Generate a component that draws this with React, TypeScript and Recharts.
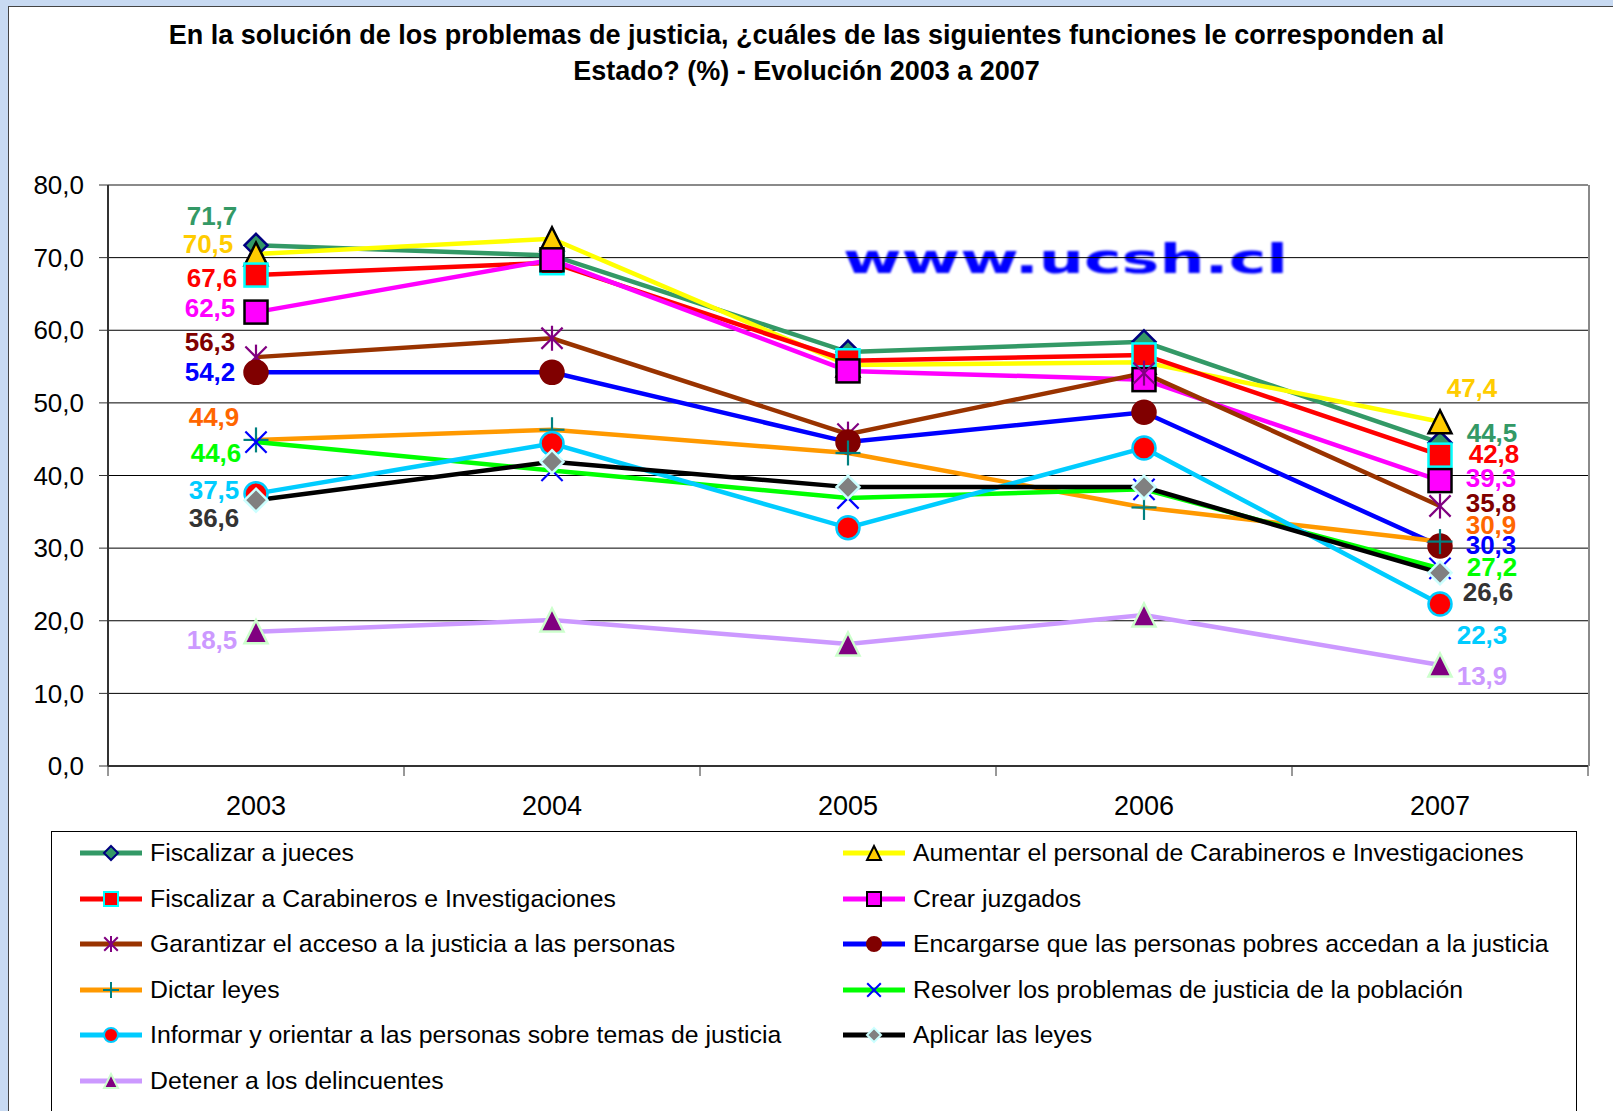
import { LineChart, Line, XAxis, YAxis, CartesianGrid, LabelList, ReferenceLine } from 'recharts';

// categories
const years = ['2003', '2004', '2005', '2006', '2007'];

// series values (%)
const fiscalizarJueces = [71.7, 70.3, 57.0, 58.4, 44.5];
const aumentarPersonal = [70.5, 72.6, 55.2, 55.6, 47.4];
const fiscalizarCarabineros = [67.6, 69.3, 55.8, 56.6, 42.8];
const crearJuzgados = [62.5, 69.7, 54.4, 53.2, 39.3];
const garantizarAcceso = [56.3, 58.9, 45.7, 54.1, 35.8];
const encargarsePobres = [54.2, 54.2, 44.6, 48.7, 30.3];
const dictarLeyes = [44.9, 46.3, 43.1, 35.6, 30.9];
const resolverProblemas = [44.6, 40.7, 36.9, 38.1, 27.2];
const informarOrientar = [37.5, 44.4, 32.8, 43.8, 22.3];
const aplicarLeyes = [36.6, 41.9, 38.4, 38.4, 26.6];
const detenerDelincuentes = [18.5, 20.1, 16.8, 20.8, 13.9];

const yTicks = [0, 10, 20, 30, 40, 50, 60, 70, 80];

// layout
const W = 1613;
const CHART_H = 830;
const PLOT_LEFT = 108;
const PLOT_RIGHT = 1588;
const PLOT_TOP = 185;
const PLOT_BOTTOM = 766;
const BAND = (PLOT_RIGHT - PLOT_LEFT) / years.length;
const FONT = '"Liberation Sans", Arial, sans-serif';

type Shape = 'diamond' | 'triangle' | 'square' | 'star' | 'circle' | 'plus' | 'cross';

interface SeriesDef {
  key: string;
  name: string;
  values: number[];
  color: string;
  shape: Shape;
  fill: string;
  stroke: string;
  labelColor: string;
  first: [number, number];
  last: [number, number];
}

const series: SeriesDef[] = [
  { key: 's0', name: 'Fiscalizar a jueces', values: fiscalizarJueces, color: '#339966', shape: 'diamond', fill: '#339966', stroke: '#000080', labelColor: '#339966', first: [-44, -29], last: [52, -10] },
  { key: 's1', name: 'Aumentar el personal de Carabineros e Investigaciones', values: aumentarPersonal, color: '#ffff00', shape: 'triangle', fill: '#ffcc00', stroke: '#000000', labelColor: '#ffcc00', first: [-48, -10], last: [32, -34] },
  { key: 's2', name: 'Fiscalizar a Carabineros e Investigaciones', values: fiscalizarCarabineros, color: '#ff0000', shape: 'square', fill: '#ff0000', stroke: '#00ffff', labelColor: '#ff0000', first: [-44, 3], last: [54, -1] },
  { key: 's3', name: 'Crear juzgados', values: crearJuzgados, color: '#ff00ff', shape: 'square', fill: '#ff00ff', stroke: '#000000', labelColor: '#ff00ff', first: [-46, -4], last: [51, -3] },
  { key: 's4', name: 'Garantizar el acceso a la justicia a las personas', values: garantizarAcceso, color: '#993300', shape: 'star', fill: '#800080', stroke: '#800080', labelColor: '#800000', first: [-46, -15], last: [51, -3] },
  { key: 's5', name: 'Encargarse que las personas pobres accedan a la justicia', values: encargarsePobres, color: '#0000ff', shape: 'circle', fill: '#800000', stroke: '#800000', labelColor: '#0000ff', first: [-46, 0], last: [51, -1] },
  { key: 's6', name: 'Dictar leyes', values: dictarLeyes, color: '#ff9900', shape: 'plus', fill: '#008080', stroke: '#008080', labelColor: '#ff6600', first: [-42, -23], last: [51, -17] },
  { key: 's7', name: 'Resolver los problemas de justicia de la población', values: resolverProblemas, color: '#00ff00', shape: 'cross', fill: '#0000ff', stroke: '#0000ff', labelColor: '#00ff00', first: [-40, 11], last: [52, -1] },
  { key: 's8', name: 'Informar y orientar a las personas sobre temas de justicia', values: informarOrientar, color: '#00ccff', shape: 'circle', fill: '#ff0000', stroke: '#00ccff', labelColor: '#00ccff', first: [-42, -4], last: [42, 31] },
  { key: 's9', name: 'Aplicar las leyes', values: aplicarLeyes, color: '#000000', shape: 'diamond', fill: '#808080', stroke: '#ccffff', labelColor: '#333333', first: [-42, 18], last: [48, 19] },
  { key: 's10', name: 'Detener a los delincuentes', values: detenerDelincuentes, color: '#cc99ff', shape: 'triangle', fill: '#800080', stroke: '#ccffcc', labelColor: '#cc99ff', first: [-44, 8], last: [42, 11] },
];

const rows = years.map((year, i) => {
  const row: Record<string, string | number> = { year };
  series.forEach((s) => { row[s.key] = s.values[i]; });
  return row;
});

const fmt = (v: number) => v.toFixed(1).replace('.', ',');

function Marker({ shape, cx, cy, s, fill, stroke, sw }: { shape: Shape; cx: number; cy: number; s: number; fill: string; stroke: string; sw: number }) {
  switch (shape) {
    case 'diamond':
      return <polygon points={`${cx},${cy - s} ${cx + s},${cy} ${cx},${cy + s} ${cx - s},${cy}`} fill={fill} stroke={stroke} strokeWidth={sw} />;
    case 'triangle':
      return <polygon points={`${cx},${cy - s} ${cx + s},${cy + s} ${cx - s},${cy + s}`} fill={fill} stroke={stroke} strokeWidth={sw} strokeLinejoin="miter" />;
    case 'square':
      return <rect x={cx - s} y={cy - s} width={s * 2} height={s * 2} fill={fill} stroke={stroke} strokeWidth={sw} />;
    case 'circle':
      return <circle cx={cx} cy={cy} r={s} fill={fill} stroke={stroke} strokeWidth={sw} />;
    case 'plus':
      return (
        <g stroke={stroke} strokeWidth={sw}>
          <line x1={cx - s} y1={cy} x2={cx + s} y2={cy} />
          <line x1={cx} y1={cy - s} x2={cx} y2={cy + s} />
        </g>
      );
    case 'cross':
      return (
        <g stroke={stroke} strokeWidth={sw}>
          <line x1={cx - s * 0.85} y1={cy - s * 0.85} x2={cx + s * 0.85} y2={cy + s * 0.85} />
          <line x1={cx - s * 0.85} y1={cy + s * 0.85} x2={cx + s * 0.85} y2={cy - s * 0.85} />
        </g>
      );
    case 'star':
      return (
        <g stroke={stroke} strokeWidth={sw}>
          <line x1={cx} y1={cy - s} x2={cx} y2={cy + s} />
          <line x1={cx - s * 0.85} y1={cy - s * 0.85} x2={cx + s * 0.85} y2={cy + s * 0.85} />
          <line x1={cx - s * 0.85} y1={cy + s * 0.85} x2={cx + s * 0.85} y2={cy - s * 0.85} />
        </g>
      );
  }
  return null;
}

const markerSize = (shape: Shape) => (shape === 'plus' || shape === 'cross' || shape === 'star' ? 12.5 : 11.5);
const markerStroke = (shape: Shape) => (shape === 'plus' || shape === 'cross' || shape === 'star' ? 2.2 : 2.5);

function XTick(props: any) {
  const { x, payload, index } = props;
  const half = BAND / 2;
  return (
    <g>
      <line x1={x - half} x2={x - half} y1={PLOT_BOTTOM} y2={PLOT_BOTTOM + 10} stroke="#333" strokeWidth={1} />
      {index === years.length - 1 && (
        <line x1={x + half} x2={x + half} y1={PLOT_BOTTOM} y2={PLOT_BOTTOM + 10} stroke="#333" strokeWidth={1} />
      )}
      <text x={x} y={PLOT_BOTTOM + 40} textAnchor="middle" dominantBaseline="central" fontSize={27} fontFamily={FONT} fill="#000">
        {payload.value}
      </text>
    </g>
  );
}

function makeLabel(s: SeriesDef) {
  return (props: any) => {
    const { index, value } = props;
    const px = props.x ?? props.viewBox?.x;
    const py = props.y ?? props.viewBox?.y;
    if (index !== 0 && index !== years.length - 1) return null;
    const [dx, dy] = index === 0 ? s.first : s.last;
    return (
      <text key={`${s.key}-lbl-${index}`} x={px + dx} y={py + dy} textAnchor="middle" dominantBaseline="central" fontSize={26} fontWeight="bold" fontFamily={FONT} fill={s.labelColor}>
        {fmt(Number(value))}
      </text>
    );
  };
}

function LegendBox() {
  return (
    <div style={{ position: 'absolute', left: 51, top: 831, width: 1526, height: 300, border: '1px solid #000', background: '#fff', boxSizing: 'border-box' }}>
      {series.map((s, i) => {
        const col = i % 2;
        const row = Math.floor(i / 2);
        const left = col === 0 ? 28 : 791;
        const top = 21 + row * 45.6 - 14;
        return (
          <div key={s.key} style={{ position: 'absolute', left, top, height: 28, display: 'flex', alignItems: 'center', whiteSpace: 'nowrap' }}>
            <svg width={64} height={28} style={{ display: 'block' }}>
              <line x1={0} x2={62} y1={14} y2={14} stroke={s.color} strokeWidth={5} />
              <Marker shape={s.shape} cx={31} cy={14} s={s.shape === 'plus' || s.shape === 'cross' || s.shape === 'star' ? 8 : 7} fill={s.fill} stroke={s.stroke} sw={2} />
            </svg>
            <span style={{ marginLeft: 6, fontFamily: FONT, fontSize: 24.8, color: '#000', lineHeight: '28px' }}>{s.name}</span>
          </div>
        );
      })}
    </div>
  );
}

export default function App() {
  return (
    <div style={{ position: 'absolute', left: 0, top: 0, width: W, height: 1111, overflow: 'hidden', background: '#c8daf2' }}>
      <div style={{ position: 'absolute', left: 8, top: 6, width: W, height: 1111, background: '#fff', borderLeft: '1px solid #444', borderTop: '1px solid #444' }} />
      <div style={{ position: 'absolute', left: 0, top: 17, width: W, textAlign: 'center', fontFamily: FONT, fontWeight: 'bold', fontSize: 27, lineHeight: '36px', color: '#000' }}>
        <div>En la solución de los problemas de justicia, ¿cuáles de las siguientes funciones le corresponden al</div>
        <div>Estado? (%) - Evolución 2003 a 2007</div>
      </div>
      <svg width={W} height={320} style={{ position: 'absolute', left: 0, top: 0 }}>
        <defs>
          <filter id="soft">
            <feGaussianBlur stdDeviation="0.9" />
          </filter>
        </defs>
        <text x={843} y={273} textLength={445} lengthAdjust="spacingAndGlyphs" fontSize={40} fontWeight={900} fontFamily='"DejaVu Sans", Arial, sans-serif' fill="#0000ff" filter="url(#soft)">
          www.ucsh.cl
        </text>
      </svg>
      <div style={{ position: 'absolute', left: 0, top: 0 }}>
        <LineChart width={W} height={CHART_H} data={rows} margin={{ top: PLOT_TOP, right: W - PLOT_RIGHT, left: 0, bottom: 0 }}>
          <CartesianGrid vertical={false} stroke="#000" strokeWidth={1} />
          <ReferenceLine y={80} stroke="#8a8a8a" strokeWidth={2} />
          <XAxis
            dataKey="year"
            height={CHART_H - PLOT_BOTTOM}
            padding={{ left: BAND / 2, right: BAND / 2 }}
            axisLine={{ stroke: '#333', strokeWidth: 2 }}
            tickLine={false}
            tick={<XTick />}
            interval={0}
          />
          <YAxis
            width={PLOT_LEFT}
            domain={[0, 80]}
            ticks={yTicks}
            tickFormatter={fmt}
            axisLine={{ stroke: '#333', strokeWidth: 2 }}
            tickLine={{ stroke: '#333' }}
            tickSize={9}
            tickMargin={15}
            tick={{ fontSize: 26, fontFamily: FONT, fill: '#000' }}
            interval={0}
          />
          {series.map((s) => (
            <Line
              key={s.key}
              dataKey={s.key}
              name={s.name}
              type="linear"
              stroke={s.color}
              strokeWidth={4.5}
              isAnimationActive={false}
              activeDot={false}
              dot={(p: any) => (
                <g key={`${s.key}-dot-${p.index}`}>
                  <Marker shape={s.shape} cx={p.cx} cy={p.cy} s={markerSize(s.shape)} fill={s.fill} stroke={s.stroke} sw={markerStroke(s.shape)} />
                </g>
              )}
            >
              <LabelList dataKey={s.key} content={makeLabel(s)} />
            </Line>
          ))}
        </LineChart>
      </div>
      <div style={{ position: 'absolute', left: PLOT_RIGHT, top: PLOT_TOP, width: 2, height: PLOT_BOTTOM - PLOT_TOP, background: '#8a8a8a' }} />
      <LegendBox />
    </div>
  );
}
